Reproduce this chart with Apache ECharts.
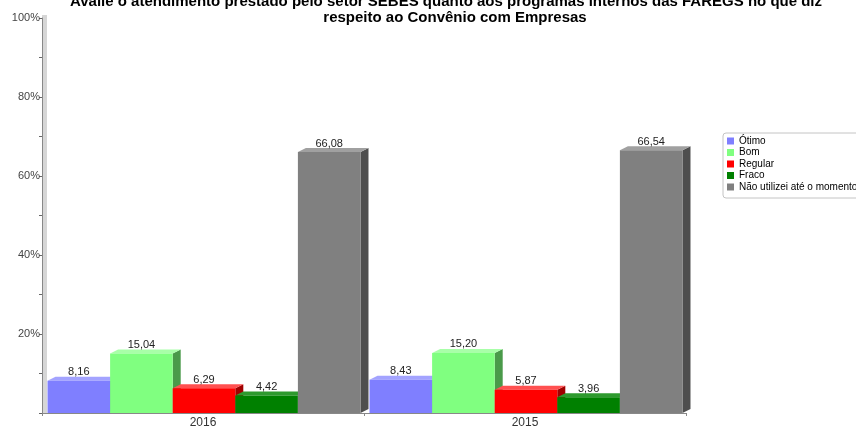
<!DOCTYPE html>
<html><head><meta charset="utf-8">
<script src="https://cdn.jsdelivr.net/npm/echarts@6/dist/echarts.min.js"></script>
<style>html,body{margin:0;padding:0;background:#fff}#c{width:856px;height:431px}</style>
</head><body><div id="c"></div>
<script>
const categories = ['2016', '2015'];
const seriesNames = ['Ótimo', 'Bom', 'Regular', 'Fraco', 'Não utilizei até o momento'];
const otimo = [8.16, 8.43];
const bom = [15.04, 15.20];
const regular = [6.29, 5.87];
const fraco = [4.42, 3.96];
const nao = [66.08, 66.54];
const yTicks = [0, 10, 20, 30, 40, 50, 60, 70, 80, 90, 100];
const titleLine1 = 'Avalie o atendimento prestado pelo setor SEBES quanto aos programas internos das FAREGS no que diz';
const titleLine2 = 'respeito ao Convênio com Empresas';

const values = [otimo, bom, regular, fraco, nao];
const faces = [
  {front: '#7f7fff', top: '#a3a3ff', side: '#5555cc'},
  {front: '#80ff80', top: '#a8ffa8', side: '#4a9a4a'},
  {front: '#ff0000', top: '#ff5050', side: '#a00000'},
  {front: '#008000', top: '#2e9a2e', side: '#004c00'},
  {front: '#808080', top: '#a0a0a0', side: '#4e4e4e'}
];
const GAP = 0.028, DX = 8, DY = 4;
const N = values.length;

function makeRender(si) {
  const f = faces[si];
  return function (params, api) {
    const ci = api.value(0), v = api.value(1);
    const base = api.coord([ci, 0]);
    const top = api.coord([ci, v]);
    const band = api.size([1, 0])[0];
    const groupW = band * (1 - GAP);
    const bw = groupW / N;
    const x0 = base[0] - groupW / 2 + si * bw + 1;
    const x1 = x0 + bw;
    const yb = base[1], yt = top[1];
    return {
      type: 'group',
      children: [
        {type: 'polygon', shape: {points: [[x1, yb], [x1, yt], [x1 + DX, yt - DY], [x1 + DX, yb - DY]]}, style: {fill: f.side}},
        {type: 'polygon', shape: {points: [[x0, yt], [x0 + DX, yt - DY], [x1 + DX, yt - DY], [x1, yt]]}, style: {fill: f.top}},
        {type: 'rect', shape: {x: x0, y: yt, width: bw, height: yb - yt}, style: {fill: f.front}},
        {type: 'text', style: {text: v.toFixed(2).replace('.', ','), x: (x0 + x1) / 2, y: yt - DY + 1,
          align: 'center', verticalAlign: 'bottom', fill: '#222', font: '11px "Liberation Sans", Arial, sans-serif'}}
      ]
    };
  };
}

const GL = 42, GT = 18, GR = 170, GB = 18;
const chart = echarts.init(document.getElementById('c'), null, {renderer: 'canvas'});
chart.setOption({
  animation: false,
  backgroundColor: '#fff',
  title: [
    {text: titleLine1, left: 446, top: -6, textAlign: 'center', padding: 0,
      textStyle: {fontSize: 15, fontWeight: 'bold', color: '#000', fontFamily: '"Liberation Sans", Arial, sans-serif', lineHeight: 16}},
    {text: titleLine2, left: 455, top: 10, textAlign: 'center', padding: 0,
      textStyle: {fontSize: 15, fontWeight: 'bold', color: '#000', fontFamily: '"Liberation Sans", Arial, sans-serif', lineHeight: 16}}
  ],
  legend: {
    orient: 'vertical', left: 723, top: 133, padding: [3, 4, 6, 4],
    itemWidth: 7, itemHeight: 7, itemGap: 1.5, icon: 'rect',
    borderColor: '#c4c4c4', borderWidth: 1, borderRadius: 3,
    textStyle: {fontSize: 10, color: '#000', lineHeight: 10, fontFamily: '"Liberation Sans", Arial, sans-serif'},
    data: seriesNames
  },
  graphic: [
    {type: 'rect', shape: {x: GL, y: GT - 3, width: 5, height: 431 - GB - GT + 3}, style: {fill: '#d6d6d6'}, z: 0}
  ],
  grid: {left: GL, top: GT, right: GR, bottom: GB},
  xAxis: {
    type: 'category', data: categories,
    axisLine: {lineStyle: {color: '#888'}},
    axisTick: {show: true, length: 3, lineStyle: {color: '#888'}},
    axisLabel: {fontSize: 12, color: '#333', margin: 4, fontFamily: '"Liberation Sans", Arial, sans-serif'},
    splitLine: {show: false}
  },
  yAxis: {
    type: 'value', min: yTicks[0], max: yTicks[yTicks.length - 1], interval: yTicks[1] - yTicks[0],
    axisLine: {show: true, lineStyle: {color: '#888'}},
    axisTick: {show: true, length: 3, lineStyle: {color: '#666'}},
    axisLabel: {fontSize: 11, color: '#444', margin: 2, fontFamily: '"Liberation Sans", Arial, sans-serif',
      formatter: v => (v > 0 && v % 20 === 0) ? v + '%' : ''},
    splitLine: {show: false}
  },
  series: values.map((arr, si) => ({
    type: 'custom', name: seriesNames[si],
    itemStyle: {color: faces[si].front},
    renderItem: makeRender(si),
    encode: {x: 0, y: 1},
    clip: false,
    data: arr.map((v, i) => [i, v])
  }))
});
</script></body></html>
